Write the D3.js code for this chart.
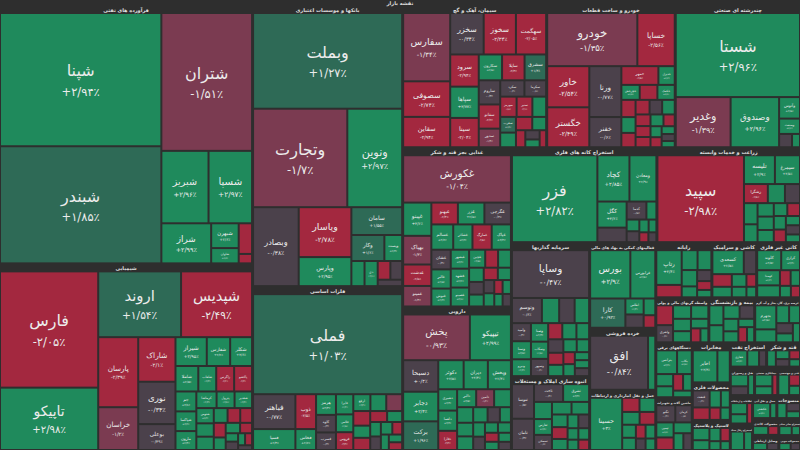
<!DOCTYPE html>
<html>
<head>
<meta charset="utf-8">
<script src="https://cdn.jsdelivr.net/npm/d3@7"></script>
<style>
  body { margin: 0; background: #2e2e2e; }
  svg { display: block; }
  text { font-family: "DejaVu Sans", sans-serif; }
</style>
</head>
<body>
<svg id="chart" width="800" height="450"></svg>
<script>
const title = "نقشه بازار";

// [symbol, size, change %]
const petroleum = [["شپنا",20460,2.94],["شبندر",17980,1.85],["شتران",11900,-1.51],["شبریز",3250,2.96],["شسپا",3000,2.97],["شراز",1900,2.99],["شبهرن",650,2.6],["شاوان",400,2.2],["شنفت",390,-2.5],["شپاس",120,-2.3]];
const banks = [["وبملت",13580,1.27],["وتجارت",8830,-1.70],["ونوین",5140,2.97],["وبصادر",3430,-0.38],["وپاسار",2500,-2.78],["وپارس",1456,2.95],["سامان",1344,1.55],["وکار",816,1.6],["وپست",440,2.3],["وآیند",315,2.3],["دی",315,2.1],["وسرمد",225,-2.4],["وسپه",210,-0.6],["وسینا",150,-0.5]];
const cement = [["سفارس",3150,-1.34],["سصوفی",1640,-2.74],["سقاین",1400,-2.94],["سخزر",1360,-0.34],["سخوز",1310,-2.34],["سهگمت",1230,-2.05],["سرود",900,-2.94],["سپاها",875,2.77],["سیتا",820,-2.04],["سکارون",590,2.5],["سایلا",570,-2.3],["سشرق",547,1.4],["ساروم",508,-0.3],["سفانو",508,-2.2],["سدور",391,-1.4],["سکرد",388,-0.3],["سکرما",348,-0.6],["سهرمز",326,-2.5],["سنیر",313,-2.1],["سبهان",274,2.3],["سغرب",243,1.4],["سمازن",226,2.6],["ساوه",213,-2.4],["سدشت",182,2.2],["سبجنو",156,-2.6],["سمایه",130,-0.2],["سشمال",109,2.1],["سنوین",109,-2.3]];
const auto = [["خودرو",4700,-1.35],["خساپا",1950,-2.56],["خاور",1700,-2.54],["خگستر",1650,-2.49],["ورنا",1600,-0.77],["خفنر",950,-0.6],["خمهر",680,-2.5],["خدیزل",300,2.2],["خچرخش",270,2.5],["خمحرکه",260,-2.3],["خکمک",255,2.4],["خبهمن",240,-2.4],["خزامیا",220,2.6],["خرینگ",200,-2.2],["خکرمان",200,-2.1],["خکار",180,-0.5],["خصدرا",180,2.3],["ختوقا",170,-2.3],["خریخت",160,-2.4],["خمحور",150,-2.3],["خاهن",150,2.3],["خودکفا",130,-2.2],["خفولا",120,2.2],["خلنت",110,-2.1],["خشرق",100,2.4],["خنصیر",90,-0.3],["خموتور",80,2.2]];
const multi = [["شستا",10250,2.96],["وغدیر",2700,-1.39],["وصندوق",2385,2.96],["وآتوس",441,2.5],["وصنعت",315,2.6],["وتوکا",169,-0.4],["وکغدیر",104,2.2]];
const chemicals = [["فارس",11000,-2.05],["تاپیکو",5900,2.98],["اروند",5250,1.54],["شپدیس",4500,-2.49],["پارسان",2700,-2.39],["خراسان",1650,-1.2],["شاراک",1600,-2.1],["نوری",1520,-0.34],["بوعلی",930,-0.39],["شیراز",870,2.95],["شفارس",650,2.2],["شکلر",609,2.6],["شاملا",560,2.5],["شلعاب",440,2.3],["زاگرس",440,-2.2],["پاکشو",440,-2.3],["جم",400,2.8],["شپاکسا",396,2.2],["مارون",380,2.4],["کرماشا",324,2.3],["پترول",288,2.6],["شغدیر",280,2.4],["شتوس",256,2.3],["شکربن",224,2.1],["شبصیر",224,2.2],["شسینا",196,2.3],["شفا",180,-2.4],["شصدف",168,-2.2],["شکف",168,-2.3],["شوینده",144,2.4],["شگویا",144,2.2],["شجم",120,-2.1],["شدوص",100,2.3],["شرنگی",100,-0.4],["شسم",81,2.2],["شپلی",81,-2.3],["شیمی",64,-0.2]];
const metals = [["فملی",14500,1.03],["فباهنر",1435,-0.77],["فسپا",861,2.4],["ذوب",700,-2.5],["فخاس",420,2.6],["هرمز",400,2.3],["کاوه",340,-0.4],["فسرب",340,-0.3],["فایرا",340,2.4],["فلامی",300,2.5],["فروس",300,-2.4],["ارفع",280,2.4],["فنورد",260,2.5],["فغدیر",260,-1.3],["فالوم",240,-2.4],["فجر",200,2.3],["فپنتا",200,-2.2],["فسازان",180,-2.4],["فاسمین",160,2.2],["فرآور",150,2.3],["فزرین",140,-0.3],["فنوال",140,2.4],["فمراد",120,-2.2],["فوکا",120,2.3],["فکمند",100,2.2],["فگستر",100,-2.3]];
const food = [["غکورش",4980,-1.04],["غپینو",915,2.6],["بهپاک",790,-1.3],["غدشت",590,-2.5],["غمینو",565,-1.4],["غبهنو",565,-2.3],["غزر",565,2.5],["غگرجی",565,-0.3],["غسالم",540,2.6],["غشاذر",475,2.3],["غمارگ",475,-2.8],["غپاک",475,2.4],["غشان",373,-0.4],["غالبر",362,2.5],["غنوش",339,2.4],["غبشهر",339,2.3],["غشهد",339,2.2],["غصینو",339,2.6],["غچین",283,2.5],["غفارس",226,-2.3],["غگلپا",226,2.1],["غدام",203,2.4],["غگل",181,-0.5],["غلر",170,2.2],["غمهرا",170,-2.2],["غنیلی",158,2.3],["غویتا",136,-0.2],["غکشت",136,2.3],["غدیس",113,-2.2],["غشصفا",113,2.4],["غاریو",102,2.2],["غبهار",102,-0.3]];
const pharma = [["پخش",2995,-0.93],["تیپیکو",1843,2.99],["دسبحا",1086,0.4],["دجابر",1020,2.4],["برکت",987,1.96],["دکوثر",724,2.5],["دیران",691,2.3],["وپخش",658,2.3],["دشیری",395,2.3],["دلقما",375,2.4],["دفارا",355,-2.4],["دالبر",336,2.5],["دامین",316,-1.4],["دتولید",296,2.2],["دزهراوی",246,2.4],["دکپسول",215,2.3],["دسینا",215,2.5],["دعبید",215,2.3],["دفرا",184,-0.4],["دتهران",165,2.6],["دکیمی",165,2.3],["داوه",154,-0.3],["دپارس",132,2.2],["دقاضی",132,2.4],["درازک",121,-2.3],["دسانکو",110,2.2],["دشیمی",110,2.3],["دلر",99,-0.2]];
const ore = [["فزر",7500,2.82],["کچاد",1500,2.85],["ومعادن",1260,2.9],["کگل",770,2.6],["کاما",430,-0.4],["کدما",360,-0.5],["کنور",182,2.3],["کمنگنز",150,2.2],["کرماشان",140,-0.3],["کطبس",120,2.2],["کبافق",100,2.3],["کسرب",90,-2.2],["کمس",80,-0.3]];
const agri = [["سپید",7600,-2.98],["تلیسه",900,2.9],["سیمرغ",730,2.5],["زشگزا",460,-2.5],["زماهان",330,2.4],["زکوثر",290,-0.4],["زفجر",290,2.3],["زپارس",245,2.4],["زدشت",220,2.2],["زشریف",220,2.5],["زفکا",200,2.3],["زبینا",176,2.4],["زمگسا",165,-2.3],["زگلدشت",165,2.2],["زنگان",154,-2.2],["زقیام",132,2.3],["زکشت",132,-0.3],["زمهر",110,2.2]];
const investment = [["وساپا",3650,-0.47],["وتوسم",745,-0.6],["وسوهان",430,2.4],["والبر",385,-0.5],["وخارزم",360,2.4],["وامید",340,-0.3],["وسنا",340,2.5],["ونیرو",316,2.3],["وصنا",316,2.3],["وسکاب",294,2.5],["وسپهر",294,-0.4],["وکوثر",226,-2.4],["وتوکا",226,2.2],["وبوعلی",203,2.4],["وملی",203,-0.3],["ونفت",181,-2.3],["وآتی",170,2.3],["وسمگا",170,2.2],["ولتجار",158,2.4],["وگستر",136,-2.2],["واعتبار",136,2.3],["وتوصا",113,2.2],["وسبحان",113,2.4],["وبهمن",113,-0.3]];
const realEstate = [["ثنوسا",797,-0.5],["ثامان",720,-0.3],["ثاخت",540,-0.4],["ثشرق",482,2.4],["ثبهساز",321,2.3],["ثفارس",296,2.4],["ثمسکن",283,-0.4],["ثاباد",257,2.5],["ثعمرا",231,2.3],["ثرود",206,2.2],["ثزاگرس",193,-2.3],["ثپردیس",180,2.4],["ثغرب",154,2.3],["ثتران",154,-0.3],["ثقزوی",129,2.2],["ثاصفا",129,2.4],["ثجنوب",116,2.3],["ثنظام",116,-2.2]];
const financeAux = [["بورس",2000,2.9],["فرابورس",1240,2.8],["کارا",1060,0.92],["اطلس",300,2.3],["فبورس",250,-0.4],["مدیریت",200,2.4],["کارگزار",150,-2.2]];
const retail = [["افق",3350,-0.84],["رفاه",420,2.4]];
const transport = [["حسینا",1800,3],["حپارسا",264,-2.4],["حتوکا",240,2.3],["حفارس",240,2.4],["حریل",216,-2.3],["حآسا",192,2.2],["حکمت",180,2.3],["حسیر",144,-2.2],["حاریا",144,2.4],["حخزر",120,-0.3],["حبندر",120,2.2]];
const computer = [["رتاپ",965,2.6],["رافزا",345,-2.5],["سیستم",345,2.4],["افرا",300,2.3],["مادیرا",276,2.4],["رکیش",184,2.2],["فن‌آوا",172,-0.3],["سپ",138,-2.2],["مفاخر",115,2.3]];
const tiles = [["کسعدی",828,2.5],["کسرام",326,-0.4],["کحافظ",270,-2.3],["کپارس",225,2.3],["کاذر",203,2.2],["کسرا",169,2.4],["کنیلو",135,-2.2],["کمرجان",113,2.3]];
const nonMetal = [["کلوند",529,2.5],["کرازی",414,2.4],["کهمدا",380,2.3],["کفرا",299,2.4],["کباده",184,-2.2],["کایزد",161,2.2],["کساوه",138,2.3],["کگاز",115,-2.3]];
const monetary = [["ولساپا",378,-2.4],["ولشرق",328,-0.4],["ولصنم",277,2.4],["ولیز",265,2.3],["ولبهمن",252,2.3],["ولملت",227,2.4],["ولغدر",189,2.2],["ولپارس",151,-2.3],["ولکار",126,2.3]];
const insurance = [["البرز",319,2.5],["وبیمه",275,2.4],["دانا",250,2.3],["بپاس",225,-0.3],["کوثر",213,2.4],["ما",188,2.2],["ملت",150,2.3],["آسیا",150,-2.2],["بنو",125,2.4]];
const power = [["بجهرم",580,2.5],["بمپنا",312,2.4],["بزاگرس",260,2.3],["بکهنوج",221,2.4],["بموتو",195,-0.3],["بفجر",169,2.2],["بپیوند",156,2.3]];
const electrical = [["بترانس",545,2.4],["بکاب",386,2.5],["بالبر",227,2.3],["بشهاب",204,2.2],["بنیرو",182,-2.3],["بایکا",159,2.4],["بورزیت",136,2.3]];
const telecom = [["اخابر",930,2.4],["همراه",470,2.3]];
const machinery = [["تکنو",363,-0.4],["کرمان",315,-0.5],["تپمپی",290,2.3],["فنرژی",242,-2.3],["تشرق",218,2.4],["تیرا",182,2.2],["لخزر",157,-0.3]];
const metalProducts = [["فنفت",345,-0.4],["فجام",253,-2.4],["تمحرکه",230,2.3],["فاراک",184,2.2],["فاذر",161,-2.3],["فتوسا",138,2.4]];
const rubber = [["پکرمان",263,2.4],["پکویر",210,2.3],["پارس",189,2.2],["پلاسک",158,-2.3],["پسهند",126,2.4],["پاکدیس",105,2.2]];
const sugar = [["قنیشا",200,2.3],["قثابت",167,2.4],["قهکمت",144,-0.4],["قشکر",133,-2.2],["قمرو",111,2.3]];
const hotel = [["گردش",270,2.3],["اعتلا",203,-0.3],["سپرده",162,2.2]];
const oilExtraction = [["حفاری",378,2.4],["دماوند",270,2.2],["نفت",162,-0.3]];
const contracting = [["تپکو",270,2.3],["بالاس",203,2.4],["ومهان",135,-2.2]];
const shipping = [["حکشتی",378,2.4],["حآبی",135,2.2]];
const coal = [["کزغال",338,2.4],["کپرور",203,2.3]];
const textile = [["نبروج",203,2.3],["نطرین",162,-0.3],["نمرینو",135,2.2]];
const engineering = [["رانفور",297,2.4],["فنی",162,-2.2],["ساراب",135,2.3]];
const infoTech = [["های‌وب",243,2.3],["اپرداز",203,2.4],["امین",135,-2.2]];
const commDevices = [["لپارس",203,2.3],["لسرما",162,-0.3]];
const paper = [["چکاپا",243,2.3],["چکارن",162,-2.3]];
const wood = [["چوب",162,2.2],["چفیبر",135,-0.3]];
const otherMining = [["کتوکا",203,2.3],["کمینا",135,2.2]];

const sectorNames = ["فرآورده های نفتی","بانکها و موسسات اعتباری","سیمان، آهک و گچ","خودرو و ساخت قطعات","چندرشته ای صنعتی","شیمیایی","فلزات اساسی","غذایی بجز قند و شکر","دارویی","استخراج کانه های فلزی","زراعت و خدمات وابسته","سرمایه گذاریها","انبوه سازی املاک و مستغلات","فعالیتهای کمکی به نهاد های مالی","خرده فروشی","حمل و نقل انبارداری و ارتباطات","رایانه","کاشی و سرامیک","کانی غیر فلزی","واسطه گریهای مالی و پولی","بیمه و بازنشستگی","عرضه برق، گاز، بخار و آب گرم","دستگاههای برقی","مخابرات","ماشین آلات و تجهیزات","محصولات فلزی","لاستیک و پلاستیک","قند و شکر","هتل و رستوران","استخراج نفت","پیمانکاری صنعتی","حمل و نقل آبی","استخراج زغال سنگ","منسوجات","فنی و مهندسی","اطلاعات و ارتباطات","وسایل ارتباطی","محصولات کاغذی","محصولات چوبی","استخراج سایر معادن"];
const sectorData = [petroleum,banks,cement,auto,multi,chemicals,metals,food,pharma,ore,agri,investment,realEstate,financeAux,retail,transport,computer,tiles,nonMetal,monetary,insurance,power,electrical,telecom,machinery,metalProducts,rubber,sugar,hotel,oilExtraction,contracting,shipping,coal,textile,engineering,infoTech,commDevices,paper,wood,otherMining];

const width = 800, height = 450;

const color = d3.scaleThreshold()
    .domain([-2, -0.9, 0.5, 2])
    .range(["#a3283f", "#7b3b51", "#4b414b", "#2e6a56", "#1f8a5c"]);

const faDigits = "۰۱۲۳۴۵۶۷۸۹";
function pct(v) {
    let s = Math.abs(v).toFixed(2).replace(/\.?0+$/, "");
    s = s.replace(/[0-9]/g, c => faDigits[+c]).replace(".", "/");
    return (v > 0 ? "+" : v < 0 ? "-" : "") + s + "٪";
}

const root = d3.hierarchy({
        name: title,
        children: sectorNames.map((n, i) => ({
            name: n,
            children: sectorData[i].map(r => ({name: r[0], size: r[1], change: r[2]}))
        }))
    })
    .sum(d => d.size || 0)
    .sort((a, b) => b.value - a.value);

d3.treemap()
    .size([width, height])
    .tile(d3.treemapSquarify.ratio(1))
    .paddingTop(d => d.depth === 0 ? 6 : 8)
    .paddingLeft(d => d.depth === 0 ? 0 : 1)
    .paddingRight(d => d.depth === 0 ? 0 : 1)
    .paddingBottom(d => d.depth === 0 ? 0 : 1)
    .paddingInner(d => d.depth === 0 ? 1 : 2)(root);

const svg = d3.select("#chart");

svg.append("rect").attr("width", width).attr("height", height).attr("fill", "#2e2e2e");

svg.append("text")
    .attr("x", width / 2)
    .attr("y", 5)
    .attr("text-anchor", "middle")
    .attr("font-size", 5)
    .attr("font-weight", "bold")
    .attr("fill", "#e0e0e0")
    .text(title);

// sector headers
const sectors = svg.selectAll(".sector")
    .data(root.children)
    .enter().append("g")
    .attr("class", "sector");

sectors.append("clipPath")
    .attr("id", (d, i) => "clip" + i)
    .append("rect")
    .attr("x", d => d.x0)
    .attr("y", d => d.y0)
    .attr("width", d => d.x1 - d.x0)
    .attr("height", 8);

sectors.append("text")
    .attr("clip-path", (d, i) => "url(#clip" + i + ")")
    .attr("x", d => (d.x0 + d.x1) / 2)
    .attr("y", d => d.y0 + 6)
    .attr("text-anchor", "middle")
    .attr("font-size", 5)
    .attr("font-weight", "bold")
    .attr("fill", "#e0e0e0")
    .text(d => d.data.name)
    .each(function (d) {
        // shrink header to fit the sector width
        const room = d.x1 - d.x0 - 2;
        const len = this.getComputedTextLength();
        if (len > room) d3.select(this).attr("font-size", Math.max(2.2, 5 * room / len));
    });

// stocks
const cells = svg.selectAll(".cell")
    .data(root.leaves())
    .enter().append("g")
    .attr("class", "cell");

cells.append("rect")
    .attr("x", d => d.x0)
    .attr("y", d => d.y0)
    .attr("width", d => Math.max(0, d.x1 - d.x0))
    .attr("height", d => Math.max(0, d.y1 - d.y0))
    .attr("fill", d => color(d.data.change));

cells.each(function (d) {
    const w = d.x1 - d.x0, h = d.y1 - d.y0;
    const fs = Math.min(16, w / (d.data.name.length * 0.62 + 1.6), w / 3.4, h / 4.3);
    if (fs < 3) return;
    const cx = (d.x0 + d.x1) / 2, cy = (d.y0 + d.y1) / 2;
    const g = d3.select(this);
    g.append("text")
        .attr("x", cx)
        .attr("y", cy - fs * 0.2)
        .attr("text-anchor", "middle")
        .attr("font-size", fs)
        .attr("fill", "#ececec")
        .text(d.data.name);
    g.append("text")
        .attr("x", cx)
        .attr("y", cy + fs * 1.0)
        .attr("text-anchor", "middle")
        .attr("direction", "ltr")
        .attr("font-size", fs * 0.72)
        .attr("fill", "#ececec")
        .text(pct(d.data.change));
});
</script>
</body>
</html>
